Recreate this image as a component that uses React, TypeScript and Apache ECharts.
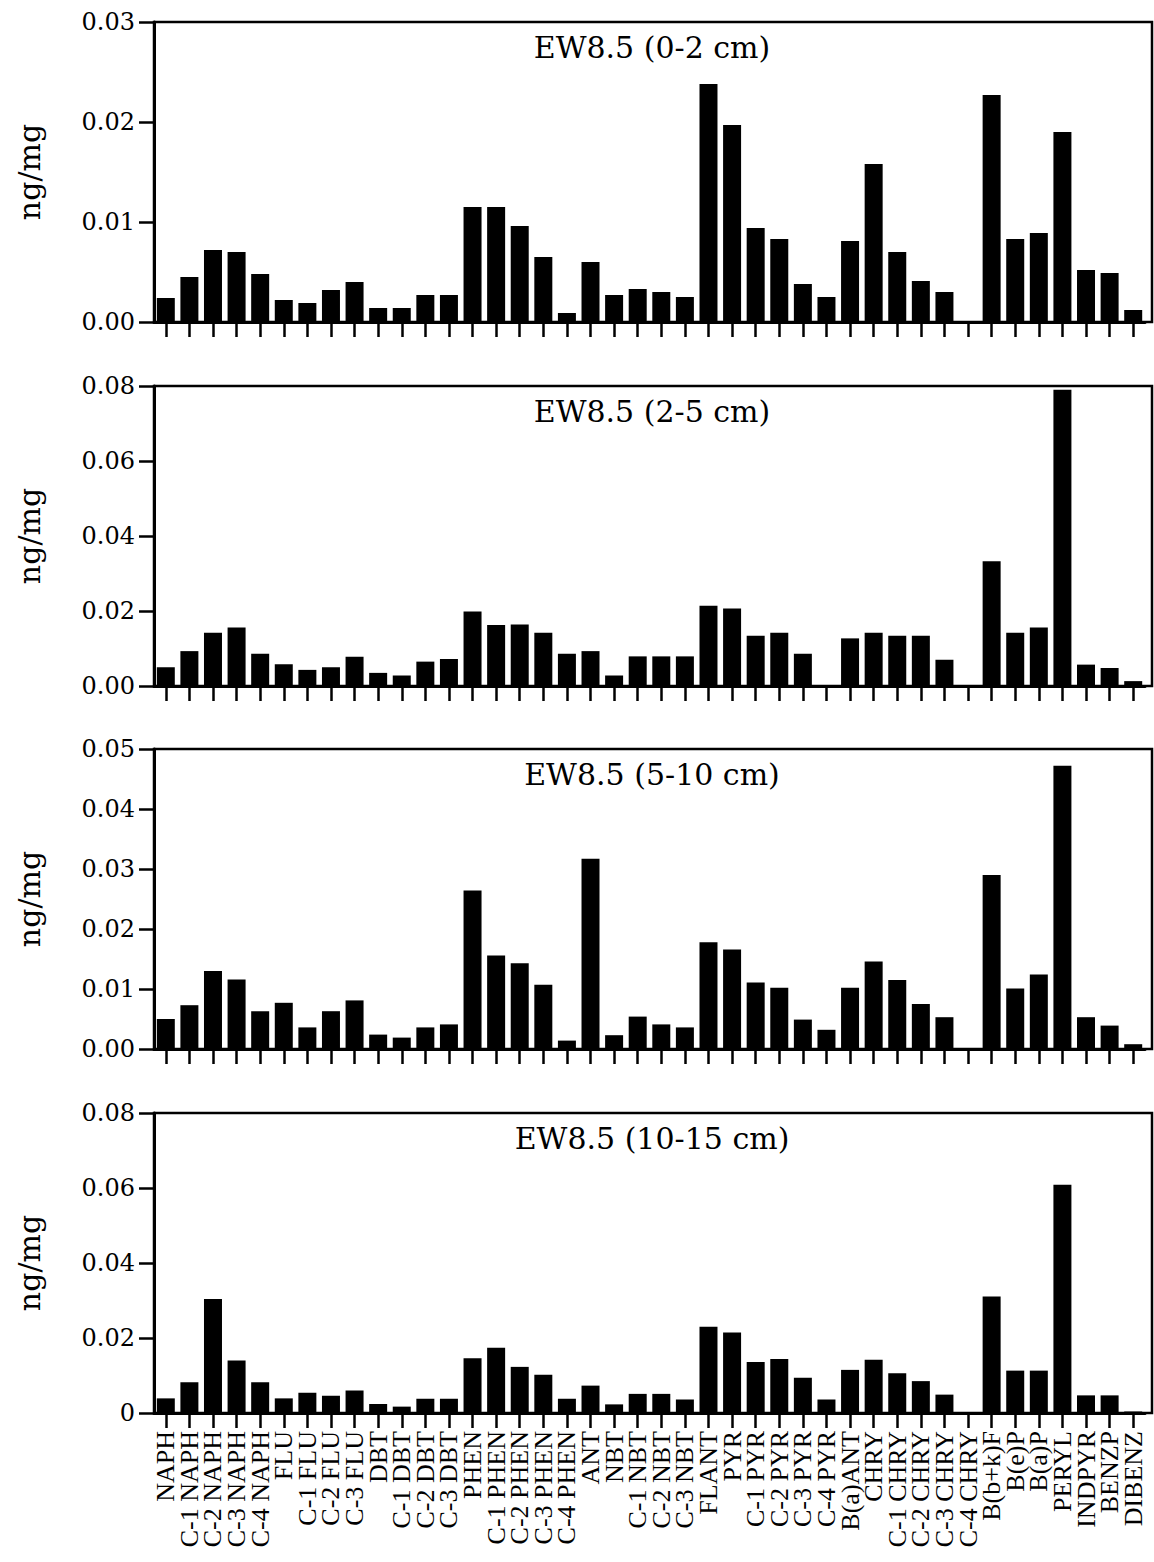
import React, { useEffect, useRef } from "react";
import * as echarts from "echarts";

const categories = [
  "NAPH", "C-1 NAPH", "C-2 NAPH", "C-3 NAPH", "C-4 NAPH",
  "FLU", "C-1 FLU", "C-2 FLU", "C-3 FLU",
  "DBT", "C-1 DBT", "C-2 DBT", "C-3 DBT",
  "PHEN", "C-1 PHEN", "C-2 PHEN", "C-3 PHEN", "C-4 PHEN",
  "ANT", "NBT", "C-1 NBT", "C-2 NBT", "C-3 NBT",
  "FLANT", "PYR", "C-1 PYR", "C-2 PYR", "C-3 PYR", "C-4 PYR",
  "B(a)ANT", "CHRY", "C-1 CHRY", "C-2 CHRY", "C-3 CHRY", "C-4 CHRY",
  "B(b+k)F", "B(e)P", "B(a)P", "PERYL", "INDPYR", "BENZP", "DIBENZ",
];

const panelTitles = ["EW8.5 (0-2 cm)", "EW8.5 (2-5 cm)", "EW8.5 (5-10 cm)", "EW8.5 (10-15 cm)"];

const values0to2 = [
  0.0024, 0.0045, 0.0072, 0.0070, 0.0048, 0.0022, 0.0019, 0.0032, 0.0040, 0.0014,
  0.0014, 0.0027, 0.0027, 0.0115, 0.0115, 0.0096, 0.0065, 0.0009, 0.0060, 0.0027,
  0.0033, 0.0030, 0.0025, 0.0238, 0.0197, 0.0094, 0.0083, 0.0038, 0.0025, 0.0081,
  0.0158, 0.0070, 0.0041, 0.0030, 0, 0.0227, 0.0083, 0.0089, 0.0190, 0.0052,
  0.0049, 0.0012,
];
const values2to5 = [
  0.0050, 0.0093, 0.0142, 0.0156, 0.0086, 0.0058, 0.0043, 0.0050, 0.0078, 0.0035,
  0.0028, 0.0065, 0.0072, 0.0199, 0.0163, 0.0164, 0.0142, 0.0086, 0.0093, 0.0028,
  0.0079, 0.0079, 0.0079, 0.0214, 0.0207, 0.0134, 0.0142, 0.0086, 0, 0.0127,
  0.0142, 0.0134, 0.0134, 0.0070, 0, 0.0333, 0.0142, 0.0156, 0.0790, 0.0057,
  0.0048, 0.0013,
];
const values5to10 = [
  0.0050, 0.0073, 0.0130, 0.0116, 0.0063, 0.0077, 0.0036, 0.0063, 0.0081, 0.0024,
  0.0019, 0.0036, 0.0041, 0.0264, 0.0156, 0.0143, 0.0107, 0.0014, 0.0317, 0.0023,
  0.0054, 0.0041, 0.0036, 0.0178, 0.0166, 0.0111, 0.0102, 0.0049, 0.0032, 0.0102,
  0.0146, 0.0115, 0.0075, 0.0053, 0, 0.0290, 0.0101, 0.0124, 0.0472, 0.0053,
  0.0039, 0.0008,
];
const values10to15 = [
  0.0039, 0.0082, 0.0304, 0.0140, 0.0082, 0.0039, 0.0054, 0.0046, 0.0060, 0.0024,
  0.0017, 0.0038, 0.0038, 0.0146, 0.0174, 0.0123, 0.0102, 0.0038, 0.0073, 0.0023,
  0.0051, 0.0051, 0.0036, 0.0230, 0.0215, 0.0136, 0.0144, 0.0094, 0.0036, 0.0115,
  0.0142, 0.0106, 0.0085, 0.0049, 0, 0.0311, 0.0113, 0.0113, 0.0609, 0.0047,
  0.0047, 0.0004,
];

const panelValues = [values0to2, values2to5, values5to10, values10to15];
const yMax = [0.03, 0.08, 0.05, 0.08];
const yInterval = [0.01, 0.02, 0.01, 0.02];

const TOPS = [22, 386, 749, 1113];
const PLOT_H = 300;
const LEFT = 154;
const BAND_RIGHT = 1145;
const FRAME_RIGHT = 1152;
const W = 1154;
const H = 1562;

export default function App() {
  const ref = useRef<HTMLDivElement>(null);

  useEffect(() => {
    if (!ref.current) return;
    const chart = echarts.init(ref.current, undefined, { renderer: "svg" });

    const grids = TOPS.map((top) => ({
      left: LEFT,
      right: W - BAND_RIGHT,
      top,
      height: PLOT_H,
      containLabel: false,
    }));

    const xAxes = TOPS.map((_, i) => ({
      type: "category",
      gridIndex: i,
      data: categories,
      boundaryGap: true,
      axisLine: { show: true, lineStyle: { color: "#000", width: 3 } },
      axisTick: {
        show: true,
        alignWithLabel: true,
        inside: false,
        length: 15,
        lineStyle: { color: "#000", width: 2.5 },
      },
      axisLabel: {
        show: i === 3,
        interval: 0,
        rotate: 90,
        margin: 18,
        color: "#000",
        fontFamily: "Liberation Serif",
        fontSize: 26,
      },
      splitLine: { show: false },
    }));

    const yAxes = TOPS.map((_, i) => ({
      type: "value",
      gridIndex: i,
      min: 0,
      max: yMax[i],
      interval: yInterval[i],
      name: "ng/mg",
      nameLocation: "middle",
      nameRotate: 90,
      nameGap: 110,
      nameTextStyle: { color: "#000", fontFamily: "DejaVu Serif", fontSize: 30 },
      axisLine: { show: true, lineStyle: { color: "#000", width: 3 } },
      axisTick: { show: true, inside: false, length: 15, lineStyle: { color: "#000", width: 2.5 } },
      axisLabel: {
        color: "#000",
        fontFamily: "DejaVu Serif",
        fontSize: 24,
        margin: 19,
        formatter: (v: number) => (i === 3 && v === 0 ? "0" : v.toFixed(2)),
      },
      splitLine: { show: false },
    }));

    const series = panelValues.map((vals, i) => ({
      type: "bar",
      xAxisIndex: i,
      yAxisIndex: i,
      data: vals,
      barWidth: 18,
      itemStyle: { color: "#000" },
    }));

    const graphics: any[] = [];
    TOPS.forEach((top, i) => {
      graphics.push({
        type: "rect",
        shape: { x: LEFT, y: top, width: FRAME_RIGHT - LEFT, height: PLOT_H },
        style: { fill: "none", stroke: "#000", lineWidth: 2.5 },
        z: 10,
        silent: true,
      });
      graphics.push({
        type: "text",
        x: 652,
        y: top + 25,
        style: {
          text: panelTitles[i],
          fontFamily: "DejaVu Serif",
          fontSize: 30,
          fill: "#000",
          align: "center",
          verticalAlign: "middle",
          textAlign: "center",
          textVerticalAlign: "middle",
        },
        z: 11,
      });
    });

    chart.setOption({
      animation: false,
      backgroundColor: "#fff",
      grid: grids,
      xAxis: xAxes,
      yAxis: yAxes,
      series,
      graphic: graphics,
    });

    return () => chart.dispose();
  }, []);

  return (
    <div
      ref={ref}
      style={{ position: "absolute", left: 0, top: 0, width: W, height: H, background: "#fff" }}
    />
  );
}
